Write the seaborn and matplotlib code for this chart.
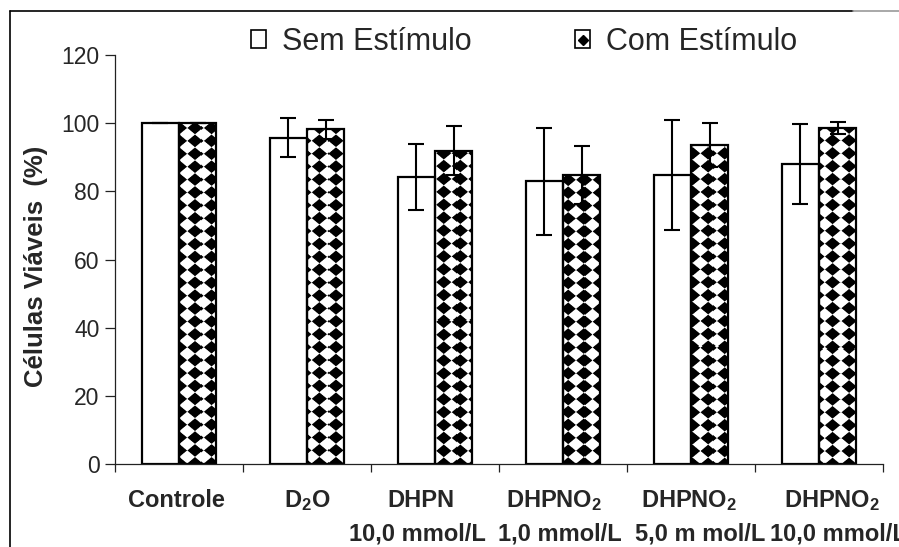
import numpy as np
import pandas as pd
import matplotlib
matplotlib.use("Agg")
import matplotlib.pyplot as plt
import matplotlib.transforms as mtransforms
from matplotlib.patches import Patch
from matplotlib.lines import Line2D
import seaborn as sns

# ---------------- data ----------------
categories = ["Controle", "D2O", "DHPN 10,0", "DHPNO2 1,0", "DHPNO2 5,0", "DHPNO2 10,0"]
tick_line1 = ["Controle", "D$_2$O", "DHPN", "DHPNO$_2$", "DHPNO$_2$", "DHPNO$_2$"]
tick_line2 = ["", "", "10,0 mmol/L", "1,0 mmol/L", "5,0 m mol/L", "10,0 mmol/L"]
series = ["Sem Estímulo", "Com Estímulo"]
sem_values = [100.0, 95.8, 84.2, 83.0, 84.8, 88.0]
sem_err = [0.0, 5.7, 9.7, 15.7, 16.1, 11.7]
com_values = [100.0, 98.2, 91.9, 84.8, 93.7, 98.7]
com_err = [0.0, 2.8, 7.2, 8.6, 6.4, 1.8]
y_ticks = [0, 20, 40, 60, 80, 100, 120]
y_label = "Células Viáveis  (%)"

df = pd.DataFrame({
    "category": categories * 2,
    "condition": [series[0]] * len(categories) + [series[1]] * len(categories),
    "value": sem_values + com_values,
})

# ---------------- style ----------------
sns.set_style("white")
plt.rcParams["font.family"] = ["Liberation Sans", "DejaVu Sans"]
plt.rcParams["mathtext.fontset"] = "custom"
plt.rcParams["mathtext.rm"] = "Liberation Sans:bold"
plt.rcParams["mathtext.it"] = "Liberation Sans:bold"
plt.rcParams["mathtext.bf"] = "Liberation Sans:bold"
plt.rcParams["mathtext.default"] = "regular"

W, H = 899, 547
fig = plt.figure(figsize=(W / 100, H / 100), dpi=100)
ax = fig.add_axes([115 / W, 83 / H, 768 / W, 408.8 / H])

sns.barplot(data=df, x="category", y="value", hue="condition",
            order=categories, hue_order=series,
            palette=["white", "white"], saturation=1, width=0.58,
            edgecolor="black", linewidth=1.6, errorbar=None,
            legend=False, ax=ax)

ax.set_xlim(-0.5, len(categories) - 0.5)
ax.set_ylim(0, 120)

# ---------------- diamond pattern for "Com Estímulo" ----------------
sp_x, sp_y = 15.55, 12.9      # pattern spacing in pixels
org_x, org_y = 195.0, 128.3   # pattern origin (pixels from top-left)
ss = 4
for bar in ax.containers[1]:
    x0, y0 = bar.get_x(), bar.get_y()
    x1, y1 = x0 + bar.get_width(), y0 + bar.get_height()
    (px0, py0), (px1, py1) = ax.transData.transform([(x0, y0), (x1, y1)])
    wpx = int(np.ceil(px1 - px0)); hpx = int(np.ceil(py1 - py0))
    xs = px0 + (np.arange(wpx * ss) + 0.5) / ss
    ys_disp = py1 - (np.arange(hpx * ss) + 0.5) / ss  # from top downwards
    ys_top = H - ys_disp
    U = (xs[None, :] - org_x) / sp_x
    V = (ys_top[:, None] - org_y) / sp_y
    du = np.abs(U - np.round(U)); dv = np.abs(V - np.round(V))
    black = (du + dv) <= 0.49
    img = 1.0 - black.reshape(hpx, ss, wpx, ss).mean(axis=(1, 3))
    xe1 = ax.transData.inverted().transform((px0 + wpx, py0))[0]
    ye1 = ax.transData.inverted().transform((px0, py0 + hpx))[1]
    im = ax.imshow(img, extent=(x0, xe1, y1 - (ye1 - y0), y1), origin="upper",
                   cmap="gray", vmin=0, vmax=1, interpolation="nearest",
                   aspect="auto", zorder=0.9)
    im.set_clip_path(bar)
    bar.set_facecolor("none")

ax.set_xlim(-0.5, len(categories) - 0.5)
ax.set_ylim(0, 120)

# ---------------- error bars ----------------
for cont, vals, errs in zip(ax.containers[:2], [sem_values, com_values], [sem_err, com_err]):
    xc = [b.get_x() + b.get_width() / 2 for b in cont]
    ax.errorbar(xc, vals, yerr=errs, fmt="none", ecolor="black",
                elinewidth=1.5, capsize=5.8, capthick=1.5, zorder=3)

# ---------------- axes ----------------
sns.despine(ax=ax)
for s in ["left", "bottom"]:
    ax.spines[s].set_color("#222222")
    ax.spines[s].set_linewidth(0.9)

ax.set_yticks(y_ticks)
ax.tick_params(axis="y", length=7, width=0.9, color="#222222", pad=4,
               labelsize=16.5, direction="out", left=True)
ax.set_xticks(np.arange(-0.5, len(categories), 1.0))
ax.set_xticklabels([""] * (len(categories) + 1))
ax.set_xticks(np.arange(len(categories)), minor=True)
ax.set_xticklabels(tick_line1, minor=True)
ax.tick_params(axis="x", which="major", length=6, width=0.9, color="#222222",
               direction="out", bottom=True)
ax.tick_params(axis="x", which="minor", length=0, pad=31, labelsize=17)
ax.set_xlabel("")
ax.set_ylabel("")

l1_shift = [-3, 0, -14, -9, -2, 13]
l2_shift = [0, 0, -18, -3, 9, 19]
for lbl, dx in zip(ax.get_xticklabels(minor=True), l1_shift):
    lbl.set_fontweight("bold")
    lbl.set_verticalalignment("baseline")
    lbl.set_transform(lbl.get_transform() +
                      mtransforms.ScaledTranslation(dx / 100, 0, fig.dpi_scale_trans))

base = mtransforms.blended_transform_factory(ax.transData, ax.transAxes)
for i, (txt, dx) in enumerate(zip(tick_line2, l2_shift)):
    if txt:
        ax.text(i, 0, txt, fontsize=17, fontweight="bold", ha="center", va="baseline",
                transform=base + mtransforms.ScaledTranslation(dx / 100, -76 / 100,
                                                               fig.dpi_scale_trans),
                clip_on=False)

fig.text(36 / W, 1 - 266 / H, y_label, rotation=90, fontsize=18.5, fontweight="bold",
         ha="center", va="center")

# ---------------- legend ----------------
h1 = Patch(facecolor="white", edgecolor="black", linewidth=1.2)
h2 = (Patch(facecolor="white", edgecolor="black", linewidth=1.2),
      Line2D([], [], marker="D", color="black", ls="none", markersize=5.5))
fig.legend([h1, h2], series, loc="center left", bbox_to_anchor=(251 / W, 1 - 42 / H),
           ncol=2, frameon=False, fontsize=22, handlelength=0.5, handleheight=0.5,
           handletextpad=0.5, columnspacing=3.4, borderpad=0, borderaxespad=0)

# ---------------- outer frame ----------------
fig.add_artist(Line2D([10 / W, 853 / W], [1 - 11 / H] * 2, transform=fig.transFigure,
                      color="black", lw=1.2))
fig.add_artist(Line2D([853 / W, 1], [1 - 11 / H] * 2, transform=fig.transFigure,
                      color="#999999", lw=1.2))
fig.add_artist(Line2D([10 / W] * 2, [0, 1 - 11 / H], transform=fig.transFigure,
                      color="black", lw=1.2))

fig.savefig("out.png", dpi=100)
